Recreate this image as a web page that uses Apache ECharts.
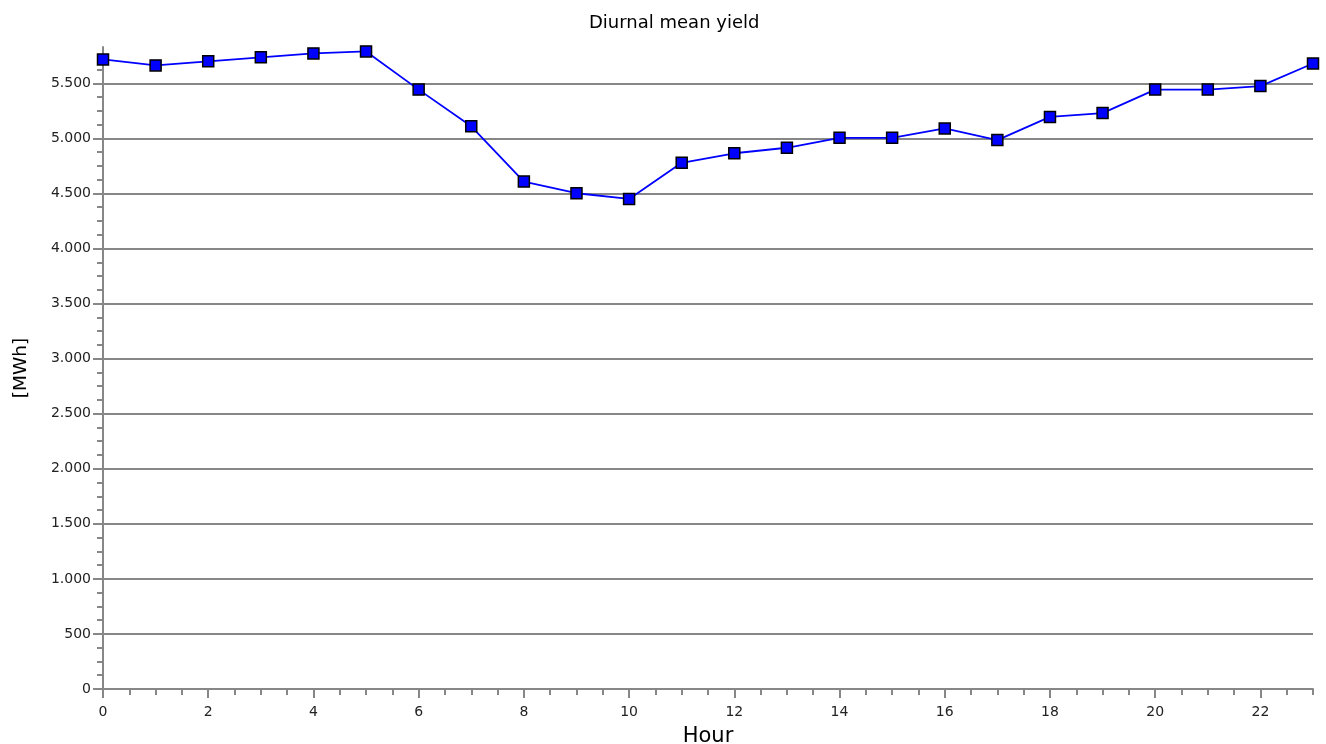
<!DOCTYPE html>
<html>
<head>
<meta charset="utf-8">
<script src="https://cdn.jsdelivr.net/npm/echarts@6/dist/echarts.min.js"></script>
<style>html,body{margin:0;padding:0;background:#fff}#c{width:1326px;height:744px}</style>
</head>
<body>
<div id="c"></div>
<script>
const hours = [0,1,2,3,4,5,6,7,8,9,10,11,12,13,14,15,16,17,18,19,20,21,22,23];
const meanYield = [5717,5663,5700,5736,5772,5790,5443,5110,4608,4502,4450,4778,4865,4915,5005,5005,5090,4985,5195,5230,5443,5443,5475,5680];
const xMajorTicks = [0,2,4,6,8,10,12,14,16,18,20,22];
const yMajorTicks = [0,500,1000,1500,2000,2500,3000,3500,4000,4500,5000,5500];
const yGridLines = [500,1000,1500,2000,2500,3000,3500,4000,4500,5000,5500];

const X_MAX = 23, Y_MAX = 5830;
const yMinorTicks = [];
for (let v = 0; v <= Y_MAX; v += 125) yMinorTicks.push(v);
const xMinorTicks = [];
for (let v = 0; v <= X_MAX; v += 0.5) xMinorTicks.push(v);

const fmt = v => String(v).replace(/\B(?=(\d{3})+(?!\d))/g, '.');
const FONT = 'DejaVu Sans';
const gray = '#878787';

const chart = echarts.init(document.getElementById('c'), null, {renderer: 'canvas'});
chart.setOption({
  backgroundColor: '#fff',
  animation: false,
  title: {
    text: 'Diurnal mean yield',
    left: 584, top: 9,
    textStyle: {fontFamily: FONT, fontSize: 18, fontWeight: 'normal', color: '#000'}
  },
  grid: {left: 103, right: 13, top: 47, bottom: 55, containLabel: false, outerBoundsMode: 'none'},
  xAxis: [{
    type: 'value', min: 0, max: X_MAX, interval: 2, position: 'bottom',
    name: 'Hour', nameLocation: 'middle', nameGap: 37,
    nameTextStyle: {fontFamily: FONT, fontSize: 21, color: '#000'},
    axisLine: {show: true, lineStyle: {color: gray, width: 2}},
    axisTick: {show: true, length: 9, lineStyle: {color: gray, width: 2}, customValues: xMajorTicks},
    axisLabel: {fontFamily: FONT, fontSize: 14, color: '#222', margin: 16, customValues: xMajorTicks},
    splitLine: {show: false}
  }, {
    type: 'value', min: 0, max: X_MAX, position: 'bottom', offset: 0,
    axisLine: {show: false},
    axisTick: {show: true, length: 6, lineStyle: {color: gray, width: 2}, customValues: xMinorTicks},
    axisLabel: {show: false},
    splitLine: {show: false}
  }],
  yAxis: [{
    type: 'value', min: 0, max: Y_MAX, interval: 500, position: 'left',
    name: '[MWh]', nameLocation: 'middle', nameGap: 72, nameRotate: 90,
    nameTextStyle: {fontFamily: FONT, fontSize: 18.5, color: '#000'},
    axisLine: {show: true, lineStyle: {color: gray, width: 2}},
    axisTick: {show: true, length: 10, lineStyle: {color: gray, width: 2}, customValues: yMajorTicks},
    axisLabel: {fontFamily: FONT, fontSize: 14, color: '#222', margin: 12, customValues: yMajorTicks, formatter: fmt},
    splitLine: {show: false}
  }, {
    type: 'value', min: 0, max: Y_MAX, position: 'left', offset: 0,
    axisLine: {show: false},
    axisTick: {show: true, length: 6, lineStyle: {color: gray, width: 2}, customValues: yMinorTicks},
    axisLabel: {show: false},
    splitLine: {show: false}
  }],
  series: [{
    type: 'line', data: [], z: 1, silent: true,
    markLine: {
      silent: true, symbol: ['none', 'none'], label: {show: false},
      lineStyle: {color: gray, width: 2, type: 'solid'},
      data: yGridLines.map(v => ({yAxis: v}))
    }
  }, {
    type: 'line', z: 5,
    data: hours.map((h, i) => [h, meanYield[i]]),
    symbol: 'rect', symbolSize: 11,
    lineStyle: {color: '#0000ff', width: 1.8},
    itemStyle: {color: '#0000ff', borderColor: '#000', borderWidth: 1.5},
    clip: false
  }]
});
</script>
</body>
</html>
